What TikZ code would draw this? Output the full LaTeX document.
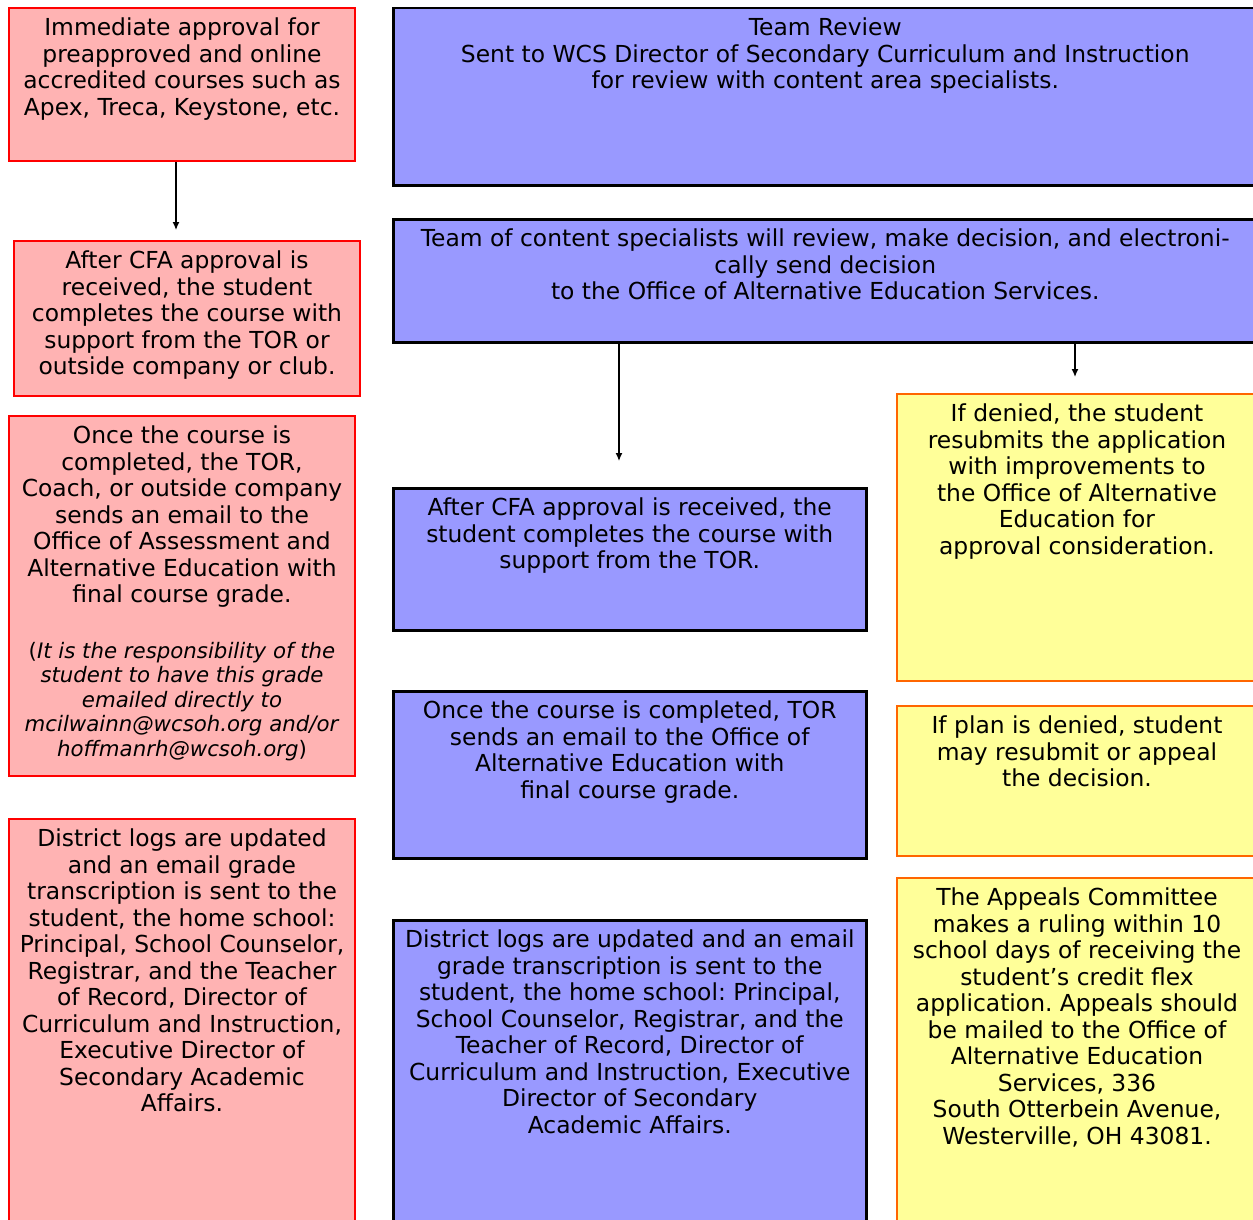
\documentclass[tikz,border=0pt]{standalone}
\usepackage{fontspec}
\setmainfont{DejaVu Sans}
\frenchspacing
\usetikzlibrary{arrows.meta}
\definecolor{pinkfill}{HTML}{FFB3B3}
\definecolor{bluefill}{HTML}{9999FF}
\definecolor{yellowfill}{HTML}{FFFF99}
\definecolor{orangeline}{HTML}{FF6600}
\begin{document}
\begin{tikzpicture}[x=1pt,y=-1pt,
  pinkbox/.style={draw=red, line width=2pt, fill=pinkfill, anchor=north west, inner sep=0pt},
  bluebox/.style={draw=black, line width=2.5pt, fill=bluefill, anchor=north west, inner sep=0pt},
  yellowbox/.style={draw=orangeline, line width=2pt, fill=yellowfill, anchor=north west, inner sep=0pt},
  txt/.style={anchor=north, align=center, inner sep=0pt, font=\fontsize{23.4}{26.5}\selectfont, execute at begin node=\strut},
  smalltxt/.style={anchor=north, align=center, inner sep=0pt, font=\fontsize{21.3}{24.5}\selectfont, execute at begin node=\strut},
  arr/.style={-{Latex[length=8pt,width=7pt]}, black, line width=1.3pt}]
\useasboundingbox (0,0) rectangle (1253,1220);
\clip (0,0) rectangle (1253,1220);

\node[pinkbox, minimum width=346pt, minimum height=153pt] (L1) at (8,7) {};
\node[pinkbox, minimum width=346pt, minimum height=155pt] (L2) at (13,240) {};
\node[pinkbox, minimum width=346pt, minimum height=360pt] (L3) at (8,415) {};
\node[pinkbox, minimum width=346pt, minimum height=420pt] (L4) at (8,818) {};
\node[bluebox, minimum width=864pt, minimum height=177pt] (T1) at (392,7) {};
\node[bluebox, minimum width=864pt, minimum height=123pt] (T2) at (392,218) {};
\node[bluebox, minimum width=473pt, minimum height=142pt] (M1) at (392,487) {};
\node[bluebox, minimum width=473pt, minimum height=167pt] (M2) at (392,690) {};
\node[bluebox, minimum width=473pt, minimum height=320pt] (M3) at (392,919) {};
\node[yellowbox, minimum width=360pt, minimum height=287pt] (R1) at (896,393) {};
\node[yellowbox, minimum width=360pt, minimum height=150pt] (R2) at (896,705) {};
\node[yellowbox, minimum width=360pt, minimum height=360pt] (R3) at (896,877) {};

\node[txt] (L1t) at ([yshift=-11pt]L1.north) {Immediate approval for\\preapproved and online\\accredited courses such as\\Apex, Treca, Keystone, etc.};
\node[txt] (L2t) at ([yshift=-11pt]L2.north) {After CFA approval is\\received, the student\\completes the course with\\support from the TOR or\\outside company or club.};
\node[txt] (L3t) at ([yshift=-11pt]L3.north) {Once the course is\\completed, the TOR,\\Coach, or outside company\\sends an email to the\\Office of Assessment and\\Alternative Education with\\final course grade.};
\node[smalltxt] (L3i) at ([yshift=-227pt]L3.north) {(\textit{It is the responsibility of the}\\\textit{student to have this grade}\\\textit{emailed directly to}\\\textit{mcilwainn@wcsoh.org and/or}\\\textit{hoffmanrh@wcsoh.org})};
\node[txt] (L4t) at ([yshift=-11pt]L4.north) {District logs are updated\\and an email grade\\transcription is sent to the\\student, the home school:\\Principal, School Counselor,\\Registrar, and the Teacher\\of Record, Director of\\Curriculum and Instruction,\\Executive Director of\\Secondary Academic\\Affairs.};
\node[txt] (T1t) at ([yshift=-11pt]T1.north) {Team Review\\Sent to WCS Director of Secondary Curriculum and Instruction\\for review with content area specialists.};
\node[txt] (T2t) at ([yshift=-11pt]T2.north) {Team of content specialists will review, make decision, and electroni-\\cally send decision\\to the Office of Alternative Education Services.};
\node[txt] (M1t) at ([yshift=-11pt]M1.north) {After CFA approval is received, the\\student completes the course with\\support from the TOR.};
\node[txt] (M2t) at ([yshift=-11pt]M2.north) {Once the course is completed, TOR\\sends an email to the Office of\\Alternative Education with\\final course grade.};
\node[txt] (M3t) at ([yshift=-11pt]M3.north) {District logs are updated and an email\\grade transcription is sent to the\\student, the home school: Principal,\\School Counselor, Registrar, and the\\Teacher of Record, Director of\\Curriculum and Instruction, Executive\\Director of Secondary\\Academic Affairs.};
\node[txt] (R1t) at ([yshift=-11pt]R1.north) {If denied, the student\\resubmits the application\\with improvements to\\the Office of Alternative\\Education for\\approval consideration.};
\node[txt] (R2t) at ([yshift=-11pt]R2.north) {If plan is denied, student\\may resubmit or appeal\\the decision.};
\node[txt] (R3t) at ([yshift=-11pt]R3.north) {The Appeals Committee\\makes a ruling within 10\\school days of receiving the\\student’s credit flex\\application. Appeals should\\be mailed to the Office of\\Alternative Education\\Services, 336\\South Otterbein Avenue,\\Westerville, OH 43081.};

\coordinate (a1) at (176,230);
\coordinate (a2) at (619,461);
\coordinate (a3) at (1075,377);
\draw[arr] (L1.south -| a1) -- (a1);
\draw[arr] (T2.south -| a2) -- (a2);
\draw[arr] (T2.south -| a3) -- (a3);
\end{tikzpicture}
\end{document}
